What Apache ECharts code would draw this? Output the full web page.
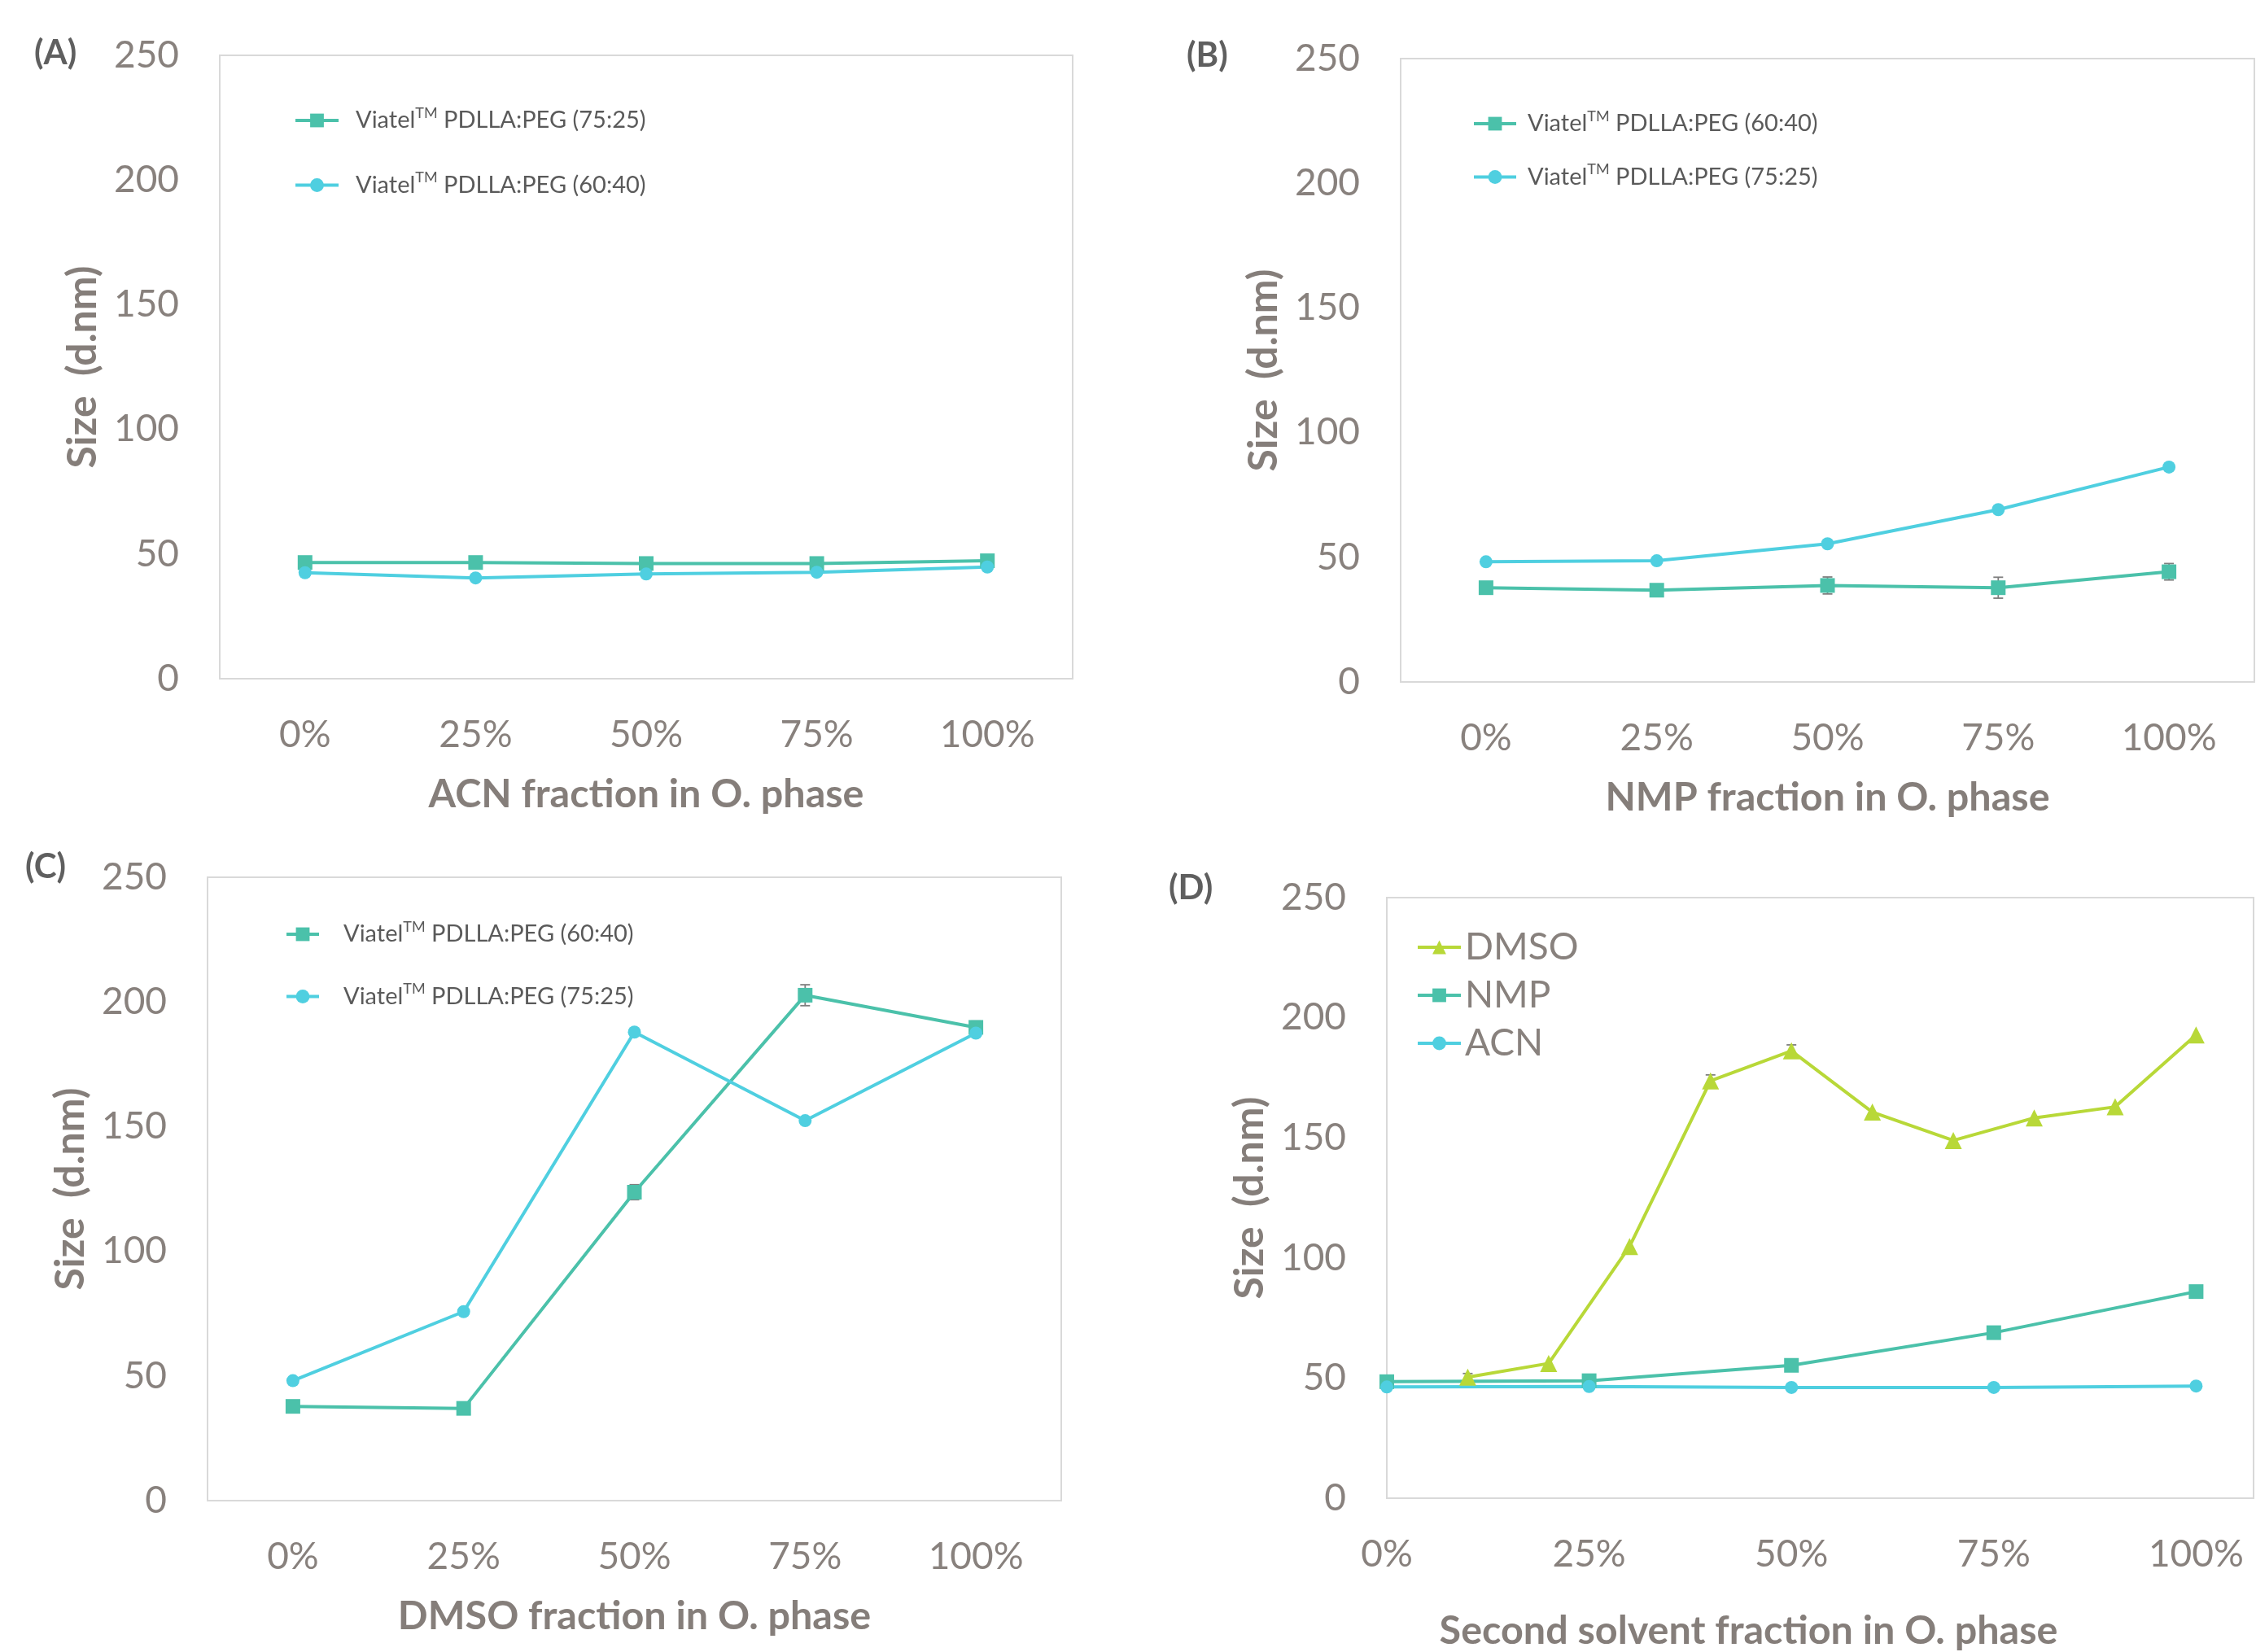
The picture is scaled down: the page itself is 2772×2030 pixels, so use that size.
<!DOCTYPE html>
<html>
<head>
<meta charset="utf-8">
<script src="https://cdn.jsdelivr.net/npm/echarts@6/dist/echarts.min.js"></script>
<style>
  html, body { margin: 0; padding: 0; background: #ffffff; }
  #chart { width: 2772px; height: 2030px; }
</style>
</head>
<body>
<div id="chart"></div>
<script>
// ---- data -------------------------------------------------------------
const fractionLabels = ['0%', '25%', '50%', '75%', '100%'];

// (A) ACN fraction in the organic phase
const acnA_7525 = [46.6, 46.6, 46.2, 46.2, 47.3];
const acnA_6040 = [42.5, 40.4, 42.0, 42.7, 44.8];

// (B) NMP fraction in the organic phase
const nmpB_6040 = [37.8, 36.8, 38.7, 37.8, 44.2];
const nmpB_6040_err = [0, 0, 3.4, 4.2, 3.3];
const nmpB_7525 = [48.2, 48.6, 55.4, 69.1, 86.2];

// (C) DMSO fraction in the organic phase
const dmsoC_6040 = [37.8, 37.0, 123.7, 202.7, 189.8];
const dmsoC_6040_err = [0, 0, 3.0, 4.2, 2.5];
const dmsoC_7525 = [48.1, 75.8, 187.9, 152.4, 187.5];

// (D) second solvent fraction, Viatel 75:25
const dmsoFrac = [0.1, 0.2, 0.3, 0.4, 0.5, 0.6, 0.7, 0.8, 0.9, 1.0];
const dmsoSize = [50.4, 56.1, 104.8, 173.7, 186.2, 160.7, 148.9, 158.3, 162.9, 192.8];
const dmsoErr  = [1.5, 0, 0, 2.5, 2.5, 0, 0, 0, 0, 0];
const solventFrac = [0, 0.25, 0.5, 0.75, 1.0];
const nmpSize = [48.5, 48.9, 55.3, 68.9, 86.0];
const acnSize = [46.3, 46.5, 46.1, 46.1, 46.7];

// ---- styling ----------------------------------------------------------
const TEAL = '#4bc1aa';
const CYAN = '#4fcfe0';
const LIME = '#b8d838';
const TICK = '#88817d';
const FONT = 'Lato, "Open Sans", sans-serif';

const legendText = {
  'A-7525': '{g|}{t|Viatel}{s|TM}{t| PDLLA:PEG (75:25)}',
  'A-6040': '{g|}{t|Viatel}{s|TM}{t| PDLLA:PEG (60:40)}',
  'B-6040': '{g|}{t|Viatel}{s|TM}{t| PDLLA:PEG (60:40)}',
  'B-7525': '{g|}{t|Viatel}{s|TM}{t| PDLLA:PEG (75:25)}',
  'C-6040': '{g|}{t|Viatel}{s|TM}{t| PDLLA:PEG (60:40)}',
  'C-7525': '{g|}{t|Viatel}{s|TM}{t| PDLLA:PEG (75:25)}',
  'DMSO': 'DMSO', 'NMP': 'NMP', 'ACN': 'ACN'
};

function richLegend(gap) {
  return {
    fontFamily: FONT, fontSize: 29, color: '#5a5a5a',
    rich: {
      g: { width: gap, lineHeight: 36 },
      t: { fontFamily: FONT, fontSize: 29, color: '#5a5a5a', lineHeight: 36 },
      s: { fontFamily: FONT, fontSize: 18, color: '#5a5a5a', lineHeight: 20, verticalAlign: 'top' }
    }
  };
}

const grids = [
  { left: 270, top: 68, width: 1048, height: 766 },
  { left: 1721, top: 72, width: 1049, height: 766 },
  { left: 255, top: 1078, width: 1049, height: 766 },
  { left: 1704, top: 1103, width: 1070, height: 738 }
].map(g => Object.assign({ show: true, borderColor: '#d9d9d9', borderWidth: 2, backgroundColor: '#fff', containLabel: false }, g));

const xNames = ['ACN fraction in O. phase', 'NMP fraction in O. phase', 'DMSO fraction in O. phase', 'Second solvent fraction in O. phase'];

const xAxes = xNames.map((name, i) => {
  const base = {
    gridIndex: i,
    name: name,
    nameLocation: 'middle',
    nameGap: i === 3 ? 139 : 118,
    nameTextStyle: { fontFamily: FONT, fontWeight: 'bold', fontSize: 48.5, color: '#857e7a',
                     padding: i === 3 ? [0, 176, 0, 0] : 0 },
    axisLine: { show: false },
    axisTick: { show: false },
    splitLine: { show: false },
    axisLabel: { fontFamily: FONT, fontSize: 46, color: TICK, margin: 46 }
  };
  if (i < 3) {
    return Object.assign(base, { type: 'category', data: fractionLabels, boundaryGap: true });
  }
  return Object.assign(base, {
    type: 'value', min: 0, max: 1.071, interval: 0.25,
    axisLabel: Object.assign({}, base.axisLabel, {
      formatter: v => (Math.abs(v / 0.25 - Math.round(v / 0.25)) < 1e-6 && v <= 1.0001) ? Math.round(v * 100) + '%' : ''
    })
  });
});

const yAxes = [0, 1, 2, 3].map(i => ({
  gridIndex: i,
  type: 'value', min: 0, max: 250, interval: 50,
  name: 'Size  (d.nm)',
  nameLocation: 'middle',
  nameGap: 143,
  nameTextStyle: { fontFamily: FONT, fontWeight: 'bold', fontSize: 50, color: '#857e7a' },
  axisLine: { show: false },
  axisTick: { show: false },
  splitLine: { show: false },
  axisLabel: { fontFamily: FONT, fontSize: 46, color: TICK, margin: 50 }
}));

function lineSeries(name, idx, values, color, symbol, size) {
  return {
    name: name, type: 'line', xAxisIndex: idx, yAxisIndex: idx,
    data: values, symbol: symbol, symbolSize: size, showSymbol: true,
    itemStyle: { color: color }, lineStyle: { color: color, width: 4 },
    z: 3, animation: false
  };
}

function errorBarItem(params, api) {
  const x = api.value(0), y = api.value(1), e = api.value(2);
  if (!e) return null;
  const hi = api.coord([x, y + e]);
  const lo = api.coord([x, y - e]);
  const w = 6;
  const style = { stroke: '#7f7f7f', lineWidth: 1.8, fill: null };
  return {
    type: 'group',
    children: [
      { type: 'line', shape: { x1: hi[0], y1: hi[1], x2: lo[0], y2: lo[1] }, style: style },
      { type: 'line', shape: { x1: hi[0] - w, y1: hi[1], x2: hi[0] + w, y2: hi[1] }, style: style },
      { type: 'line', shape: { x1: lo[0] - w, y1: lo[1], x2: lo[0] + w, y2: lo[1] }, style: style }
    ]
  };
}

function errorSeries(idx, xs, ys, errs) {
  return {
    type: 'custom', xAxisIndex: idx, yAxisIndex: idx,
    data: ys.map((v, k) => [xs[k], v, errs[k]]),
    renderItem: errorBarItem, z: 2, silent: true, animation: false
  };
}

const catIdx = fractionLabels.map((_, k) => k);

const series = [
  lineSeries('A-7525', 0, acnA_7525, TEAL, 'rect', 18),
  lineSeries('A-6040', 0, acnA_6040, CYAN, 'circle', 16),

  errorSeries(1, catIdx, nmpB_6040, nmpB_6040_err),
  lineSeries('B-6040', 1, nmpB_6040, TEAL, 'rect', 18),
  lineSeries('B-7525', 1, nmpB_7525, CYAN, 'circle', 16),

  errorSeries(2, catIdx, dmsoC_6040, dmsoC_6040_err),
  lineSeries('C-6040', 2, dmsoC_6040, TEAL, 'rect', 18),
  lineSeries('C-7525', 2, dmsoC_7525, CYAN, 'circle', 16),

  errorSeries(3, dmsoFrac, dmsoSize, dmsoErr),
  lineSeries('DMSO', 3, dmsoFrac.map((f, k) => [f, dmsoSize[k]]), LIME, 'triangle', 21),
  lineSeries('NMP', 3, solventFrac.map((f, k) => [f, nmpSize[k]]), TEAL, 'rect', 18),
  lineSeries('ACN', 3, solventFrac.map((f, k) => [f, acnSize[k]]), CYAN, 'circle', 16)
];

const legendFormatter = name => legendText[name];

const legends = [
  { data: ['A-7525', 'A-6040'], left: 361, top: 130, itemWidth: 53, itemGap: 47, textStyle: richLegend(16) },
  { data: ['B-6040', 'B-7525'], left: 1809, top: 134, itemWidth: 52, itemGap: 33, textStyle: richLegend(9) },
  { data: ['C-6040', 'C-7525'], left: 350, top: 1130, itemWidth: 40, itemGap: 44, textStyle: richLegend(25) },
  { data: ['DMSO', 'NMP', 'ACN'], left: 1740, top: 1139, itemWidth: 53, itemGap: 9,
    textStyle: { fontFamily: FONT, fontSize: 46, color: TICK, lineHeight: 50 } }
].map(l => Object.assign({ orient: 'vertical', padding: 0, itemHeight: 21, formatter: legendFormatter,
                           selectedMode: false, lineStyle: { width: 4 } }, l));

const panelTitles = [
  { text: '(A)', left: 42, top: 40 },
  { text: '(B)', left: 1458, top: 43 },
  { text: '(C)', left: 31, top: 1040 },
  { text: '(D)', left: 1436, top: 1066 }
].map(t => Object.assign({ padding: 0,
  textStyle: { fontFamily: FONT, fontWeight: 'bold', fontSize: 42, color: '#5f5f5f', lineHeight: 50 } }, t));

const chart = echarts.init(document.getElementById('chart'), null, { renderer: 'canvas' });
chart.setOption({
  backgroundColor: '#ffffff',
  animation: false,
  title: panelTitles,
  legend: legends,
  grid: grids,
  xAxis: xAxes,
  yAxis: yAxes,
  series: series
});
</script>
</body>
</html>
